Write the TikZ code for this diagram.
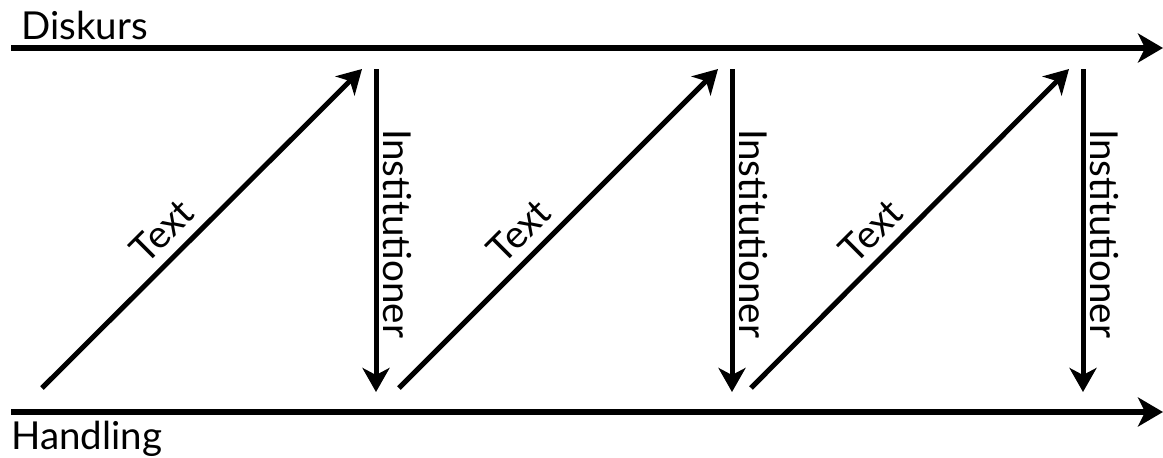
\documentclass[tikz,border=0pt]{standalone}
\usepackage{fontspec}
\setmainfont{Lato}
\usetikzlibrary{arrows.meta,calc}
\begin{document}
\begin{tikzpicture}[x=1pt,y=-1pt,
  axis/.style={line width=5.5pt,-{Stealth[length=25pt,width=29pt,inset=7pt]}},
  link/.style={line width=5pt,-{Stealth[length=24pt,width=27pt,inset=7pt]}},
  lbl/.style={font=\fontsize{38.5}{42}\selectfont,inner sep=0pt},
  tlbl/.style={font=\fontsize{38.5}{42}\selectfont,inner sep=0pt}]
\useasboundingbox (0,0) rectangle (1163,458);
% axes
\coordinate (d0) at (11,48);
\coordinate (d1) at (1163,48);
\coordinate (h0) at (11,412);
\coordinate (h1) at (1163,412);
\draw[axis] (d0) -- (d1);
\draw[axis] (h0) -- (h1);
\node[lbl,anchor=base west] (dk) at (21,39) {Diskurs};
\node[lbl,anchor=base west] (hd) at (11,449) {Handling};
% diagonals and verticals
\foreach \i/\xs/\xt/\xv in {1/42/362/376, 2/399/718/732, 3/751/1069/1083}{
  \coordinate (s\i) at (\xs,388);
  \coordinate (t\i) at (\xt,69);
  \coordinate (v\i a) at (\xv,69);
  \coordinate (v\i b) at (\xv,392);
  \draw[link] (s\i) -- (t\i);
  \draw[link] (v\i a) -- (v\i b);
  \node[tlbl,rotate=45,anchor=base] (txt\i) at ($(s\i)+(129.5,-147.5)$) {Text};
  \node[tlbl,rotate=-90,anchor=base] (ins\i) at ($(v\i a)+(7,164.5)$) {Institutioner};
}
\end{tikzpicture}
\end{document}
